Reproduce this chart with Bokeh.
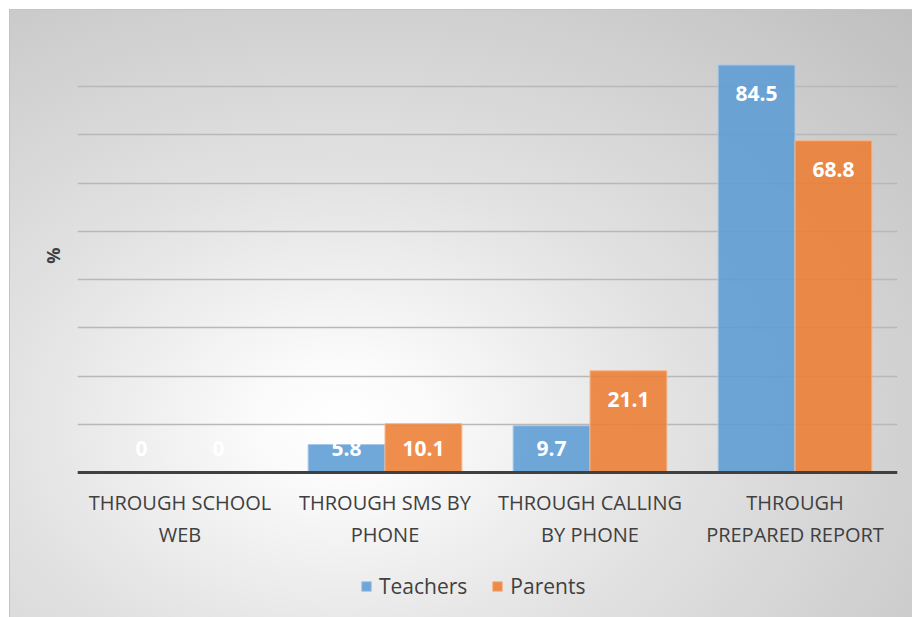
from bokeh.plotting import figure
from bokeh.models import FactorRange, Range1d, FixedTicker, Legend, LegendItem, ColumnDataSource, Title
from bokeh.transform import dodge
from bokeh.core.properties import value
from bokeh.embed import file_html
from bokeh.resources import INLINE

categories = ["THROUGH SCHOOL\nWEB", "THROUGH SMS BY\nPHONE", "THROUGH CALLING\nBY PHONE", "THROUGH\nPREPARED REPORT"]
teachers = [0, 5.8, 9.7, 84.5]
parents = [0, 10.1, 21.1, 68.8]
series_names = ["Teachers", "Parents"]
y_label = "%"
y_ticks = [0, 10, 20, 30, 40, 50, 60, 70, 80, 90]

FONT = "Open Sans"
BLUE = "#5B9BD5"
ORANGE = "#ED7D31"

# frame: 38px top .. 617px bottom; value axis 0..90 spans 434 px, the rest below 0
# holds the category labels and the legend
PX_PER_UNIT = 434 / 90
Y_MIN = -(617 - 472) / PX_PER_UNIT

def lab_pos(vals):
    return [max(v - 5.9, 5.0) for v in vals]

src = ColumnDataSource(dict(
    cat=categories,
    teachers=teachers,
    parents=parents,
    t_ly=lab_pos(teachers),
    p_ly=lab_pos(parents),
    t_txt=[f"{v:g}" for v in teachers],
    p_txt=[f"{v:g}" for v in parents],
))

p = figure(x_range=FactorRange(factors=categories), y_range=Range1d(Y_MIN, 90),
           frame_width=820, frame_height=579, output_backend="svg", toolbar_location=None,
           min_border_left=77, min_border_right=15, min_border_top=38, min_border_bottom=0)

p.background_fill_alpha = 0
p.border_fill_alpha = 0
p.outline_line_color = None
p.styles = {
    "background": ("linear-gradient(#c4c4c4,#c4c4c4) 9px 9px / 903px 1px no-repeat, "
                   "linear-gradient(#c4c4c4,#c4c4c4) 9px 9px / 1px 608px no-repeat, "
                   "radial-gradient(ellipse at 37% 68%, #ffffff 0%, #fbfbfb 10%, #e2e2e2 42%, #bfbfbf 100%) 9px 9px / 903px 608px no-repeat, "
                   "#ffffff"),
}

w = 0.375
bt = p.vbar(x=dodge("cat", -w / 2, range=p.x_range), top="teachers", width=w, source=src,
            fill_color=BLUE, fill_alpha=0.87, line_color="#a8c8e8", line_width=1)
bp = p.vbar(x=dodge("cat", w / 2, range=p.x_range), top="parents", width=w, source=src,
            fill_color=ORANGE, fill_alpha=0.87, line_color="#f6b68c", line_width=1)

p.text(x=dodge("cat", -w / 2, range=p.x_range), y="t_ly", text="t_txt", source=src,
       text_font=value(FONT), text_font_style="bold", text_font_size="21px",
       text_color="white", text_align="center", text_baseline="middle")
p.text(x=dodge("cat", w / 2, range=p.x_range), y="p_ly", text="p_txt", source=src,
       text_font=value(FONT), text_font_style="bold", text_font_size="21px",
       text_color="white", text_align="center", text_baseline="middle")

# grid
p.xgrid.grid_line_color = None
p.yaxis.ticker = FixedTicker(ticks=y_ticks)
p.ygrid.grid_line_color = "#b8b8b8"
p.ygrid.grid_line_width = 1.5

# y axis: invisible parts, label drawn as a left-side title placed beside the 0..90 span
p.yaxis.major_label_text_font_size = "0px"
p.yaxis.major_tick_line_color = None
p.yaxis.minor_tick_line_color = None
p.yaxis.axis_line_color = None

ytitle = Title(text=y_label, align="right", vertical_align="bottom", offset=209, standoff=14,
               text_font=FONT, text_font_size="18px", text_font_style="bold",
               text_color="#404040")
p.add_layout(ytitle, "left")

# x axis, drawn at value 0
p.xaxis.fixed_location = 0
p.xaxis.axis_line_color = "#404040"
p.xaxis.axis_line_width = 3
p.xaxis.major_tick_line_color = None
p.xaxis.minor_tick_line_color = None
p.xaxis.major_label_text_font = FONT
p.xaxis.major_label_text_font_size = "20px"
p.xaxis.major_label_text_color = "#404040"
p.xaxis.major_label_standoff = 10

legend = Legend(items=[LegendItem(label=series_names[0], renderers=[bt]),
                       LegendItem(label=series_names[1], renderers=[bp])],
                orientation="horizontal", location=(275, 9))
legend.label_text_font = FONT
legend.label_text_font_size = "21px"
legend.label_text_color = "#404040"
legend.glyph_width = 12
legend.glyph_height = 12
legend.spacing = 24
legend.label_standoff = 7
legend.padding = 8
legend.margin = 0
legend.background_fill_alpha = 0
legend.border_line_alpha = 0
p.add_layout(legend, "center")

open("out.html", "w").write(file_html(p, INLINE))
